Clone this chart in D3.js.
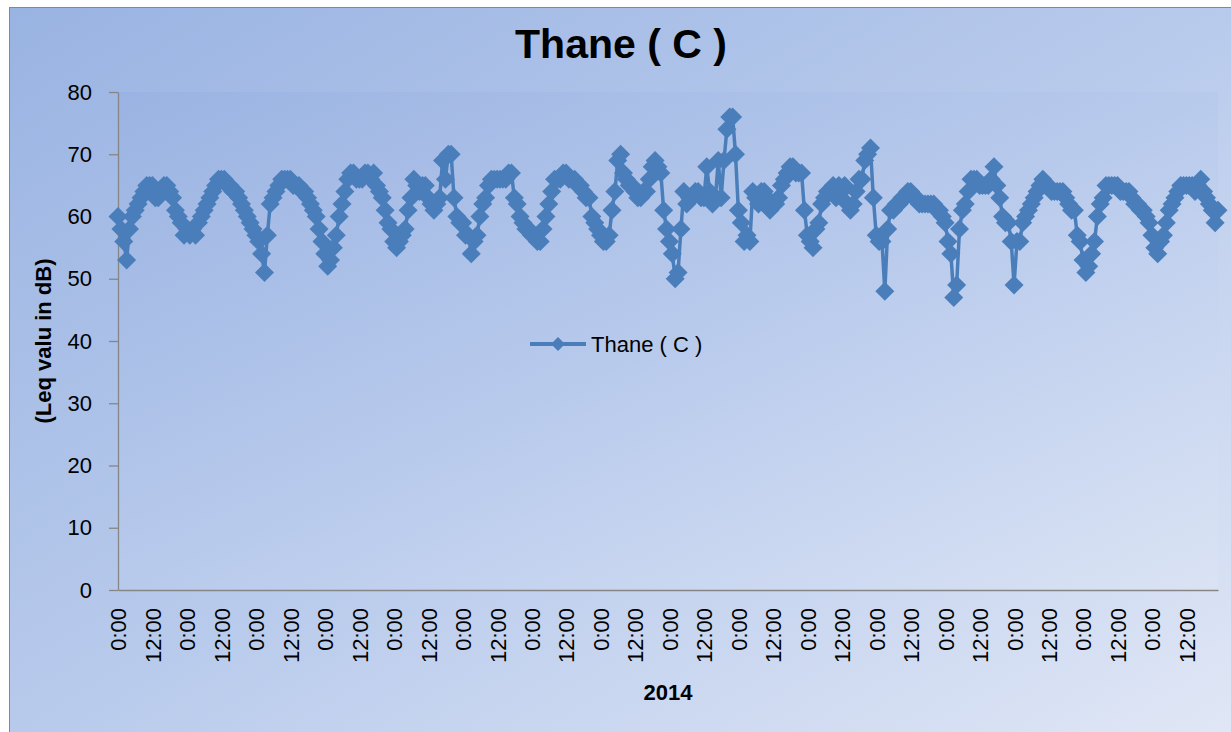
<!DOCTYPE html>
<html>
<head>
<meta charset="utf-8">
<script src="https://cdn.jsdelivr.net/npm/d3@7"></script>
<style>
  html, body { margin: 0; padding: 0; background: #ffffff; }
  svg { display: block; font-family: "Liberation Sans", Arial, sans-serif; }
</style>
</head>
<body>
<svg id="chart" width="1231" height="732"></svg>
<script>
// ---- chart text ----
const chartTitle = "Thane ( C )";
const seriesName = "Thane ( C )";
const xAxisTitle = "2014";
const yAxisTitle = "(Leq valu in dB)";

// ---- axis ticks ----
const yTicks = [0, 10, 20, 30, 40, 50, 60, 70, 80];
const hourLabels = { 0: "0:00", 12: "12:00" };   // a label every 12 hourly readings

// ---- hourly Leq readings (dB), one array per day ----
const day01 = [60,58,56,53,58,60,61,62,63,64,65,65,65,63,63,64,65,65,64,63,61,60,59,57];
const day02 = [58,57,58,57,59,60,61,62,63,64,65,66,66,66,65,65,64,64,63,62,61,60,59,58];
const day03 = [57,56,54,51,57,62,63,64,65,66,66,66,66,65,65,65,64,64,63,62,61,60,58,56];
const day04 = [54,52,53,55,57,60,62,64,66,67,67,66,66,66,67,67,66,67,65,64,63,61,59,58];
const day05 = [56,55,56,57,58,61,63,66,65,64,65,65,63,62,61,62,63,69,66,70,70,63,60,59];
const day06 = [59,57,57,54,56,57,60,62,63,65,66,66,66,66,66,66,67,67,63,62,60,59,58,58];
const day07 = [57,57,56,56,58,60,62,64,66,66,66,67,67,66,66,66,65,65,64,63,63,60,59,58];
const day08 = [57,56,56,57,61,64,69,70,67,66,65,65,64,63,63,64,64,66,68,69,68,67,61,58];
const day09 = [56,54,50,51,58,64,62,63,63,64,64,63,63,68,64,62,63,69,63,69,74,76,76,70];
const day10 = [61,59,56,57,56,64,63,62,64,64,63,61,62,62,63,65,66,67,68,68,67,67,67,61];
const day11 = [57,56,55,58,59,62,63,64,64,65,63,65,64,65,62,61,62,64,66,66,69,70,71,63];
const day12 = [57,56,56,48,58,61,61,62,62,63,63,64,64,63,63,62,62,62,62,62,62,61,61,60];
const day13 = [59,56,54,47,49,58,61,62,64,66,66,66,65,65,65,65,66,68,65,63,60,59,59,56];
const day14 = [49,56,56,59,60,61,62,63,64,65,66,65,65,64,64,64,64,64,63,62,61,61,57,56];
const day15 = [53,51,52,54,56,60,62,63,65,65,65,65,65,64,64,64,64,63,62,62,61,61,60,59];
const day16 = [57,55,54,56,57,59,61,62,63,64,65,65,65,65,65,64,65,66,64,63,62,61,59,61];

const leq = [].concat(day01, day02, day03, day04, day05, day06, day07, day08,
                      day09, day10, day11, day12, day13, day14, day15, day16);
// hour of day for each reading
const categories = leq.map((_, i) => i % 24);

// ---- layout ----
const W = 1231, H = 732;
const plot = { left: 118, right: 1218, top: 92, bottom: 590 };
const blue = "#4a7ebb";

const svg = d3.select("#chart");
const defs = svg.append("defs");

const bgGrad = defs.append("linearGradient")
  .attr("id", "bgGrad").attr("x1", 0).attr("y1", 0).attr("x2", 1).attr("y2", 1);
bgGrad.append("stop").attr("offset", "0%").attr("stop-color", "#99b3e2");
bgGrad.append("stop").attr("offset", "50%").attr("stop-color", "#b9cbec");
bgGrad.append("stop").attr("offset", "100%").attr("stop-color", "#e2e8f6");

const plotGrad = defs.append("linearGradient")
  .attr("id", "plotGrad").attr("x1", 0).attr("y1", 0).attr("x2", 1).attr("y2", 1);
plotGrad.append("stop").attr("offset", "0%").attr("stop-color", "#9ab3e2");
plotGrad.append("stop").attr("offset", "50%").attr("stop-color", "#b8caec");
plotGrad.append("stop").attr("offset", "100%").attr("stop-color", "#dae3f4");

// chart area
svg.append("rect")
  .attr("x", 9.5).attr("y", 7.5)
  .attr("width", W + 20).attr("height", H + 20)
  .attr("fill", "url(#bgGrad)")
  .attr("stroke", "#888888").attr("stroke-width", 1);

// plot area
svg.append("rect")
  .attr("x", plot.left).attr("y", plot.top)
  .attr("width", plot.right - plot.left).attr("height", plot.bottom - plot.top)
  .attr("fill", "url(#plotGrad)");

// ---- scales ----
const x = d3.scalePoint().domain(d3.range(leq.length)).range([plot.left, plot.right]);
const y = d3.scaleLinear().domain([0, 80]).range([plot.bottom, plot.top]);

// ---- y axis ----
const yAxis = svg.append("g")
  .attr("transform", `translate(${plot.left},0)`)
  .call(d3.axisLeft(y).tickValues(yTicks).tickSize(9).tickPadding(17).tickSizeOuter(0));
yAxis.select(".domain").attr("stroke", "#868686").attr("stroke-width", 1.3);
yAxis.selectAll(".tick line").attr("stroke", "#868686").attr("stroke-width", 1.3);
yAxis.selectAll(".tick text")
  .attr("fill", "#000").style("font-size", "22px")
  .style("font-family", "'Liberation Sans', Arial, sans-serif");

// ---- x axis ----
const labelIdx = d3.range(leq.length).filter(i => hourLabels[categories[i]] !== undefined);
const xAxis = svg.append("g")
  .attr("transform", `translate(0,${plot.bottom})`)
  .call(d3.axisBottom(x).tickValues(labelIdx).tickSize(0).tickSizeOuter(0)
          .tickFormat(i => hourLabels[categories[i]]));
xAxis.select(".domain").attr("stroke", "#868686").attr("stroke-width", 1.3);
xAxis.selectAll(".tick text")
  .attr("transform", "rotate(-90)")
  .attr("x", -18).attr("y", 0).attr("dy", "0.36em")
  .style("text-anchor", "end")
  .attr("fill", "#000").style("font-size", "22px")
  .style("font-family", "'Liberation Sans', Arial, sans-serif");

// ---- series ----
const line = d3.line().x((d, i) => x(i)).y(d => y(d));
svg.append("path")
  .datum(leq)
  .attr("d", line)
  .attr("fill", "none")
  .attr("stroke", blue)
  .attr("stroke-width", 3.5)
  .attr("stroke-linejoin", "round");

const diamond = r => `M0,${-r}L${r},0L0,${r}L${-r},0Z`;
svg.append("g").selectAll("path")
  .data(leq)
  .join("path")
  .attr("transform", (d, i) => `translate(${x(i)},${y(d)})`)
  .attr("d", diamond(9.5))
  .attr("fill", blue);

// ---- legend ----
const legend = svg.append("g").attr("transform", "translate(530,344)");
legend.append("line")
  .attr("x1", 0).attr("x2", 56).attr("y1", 0).attr("y2", 0)
  .attr("stroke", blue).attr("stroke-width", 4);
legend.append("path")
  .attr("transform", "translate(28,0)")
  .attr("d", diamond(7))
  .attr("fill", blue);
legend.append("text")
  .attr("x", 61).attr("y", 0).attr("dy", "0.36em")
  .style("font-size", "22px").attr("fill", "#000")
  .text(seriesName);

// ---- titles ----
svg.append("text")
  .attr("x", 621).attr("y", 58)
  .attr("text-anchor", "middle")
  .style("font-size", "41px").style("font-weight", "bold")
  .attr("fill", "#000")
  .text(chartTitle);

svg.append("text")
  .attr("x", (plot.left + plot.right) / 2).attr("y", 700)
  .attr("text-anchor", "middle")
  .style("font-size", "22px").style("font-weight", "bold")
  .attr("fill", "#000")
  .text(xAxisTitle);

svg.append("text")
  .attr("transform", "translate(43,341) rotate(-90)")
  .attr("text-anchor", "middle").attr("dy", "0.36em")
  .style("font-size", "22px").style("font-weight", "bold")
  .attr("fill", "#000")
  .text(yAxisTitle);
</script>
</body>
</html>
